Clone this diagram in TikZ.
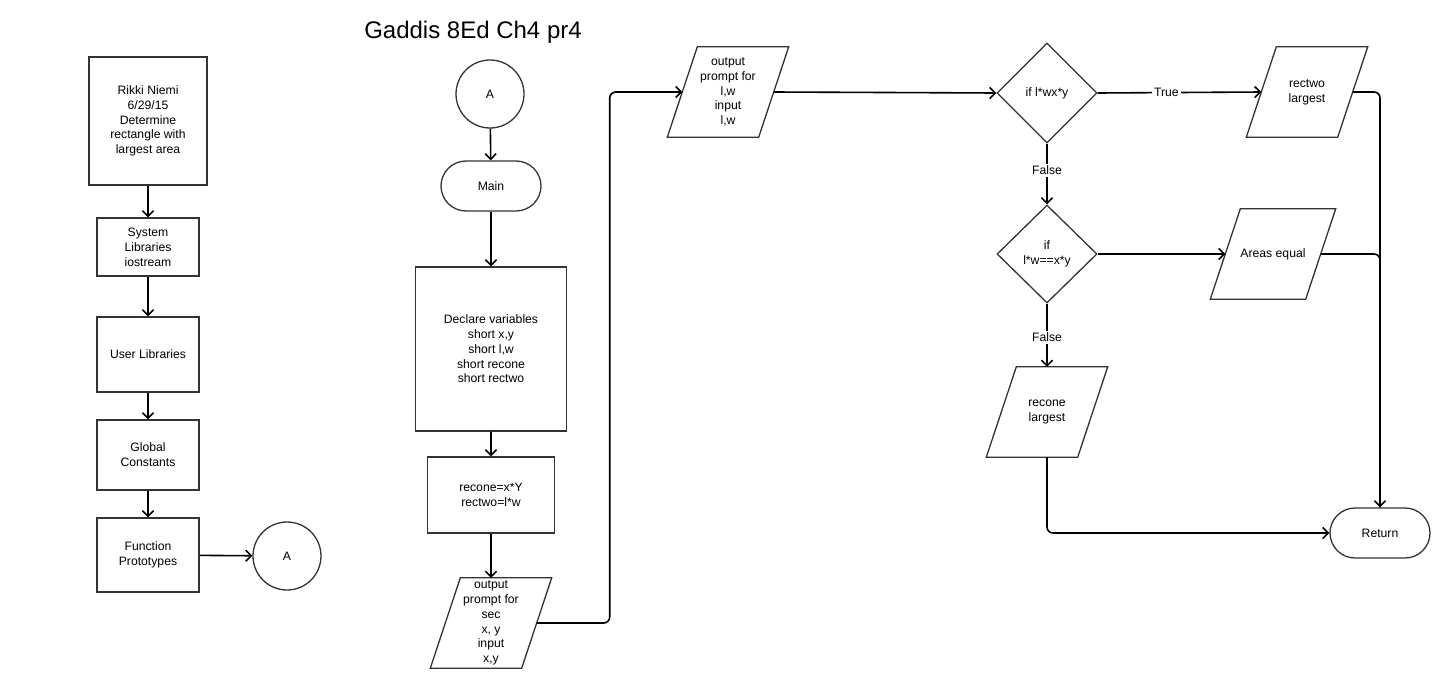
\documentclass[tikz,border=0pt]{standalone}
\usepackage{fontspec}
\setmainfont{Liberation Sans}
\usetikzlibrary{shapes.geometric,arrows.meta}

% slanted outline round a plain node
\newcommand{\paral}[1]{%
    \draw[draw=black!80, line width=1.3pt]
        ([xshift=15pt]#1.north west) -- ([xshift=15pt]#1.north east)
        -- ([xshift=-15pt]#1.south east) -- ([xshift=-15pt]#1.south west) -- cycle;}

\begin{document}
\begin{tikzpicture}[x=1pt,y=-1pt,
        every node/.style={font=\fontsize{12.2}{14.8}\selectfont, align=center},
        box/.style={draw=black!80, line width=1.3pt, rectangle, inner sep=0pt},
        para/.style={rectangle, minimum width=91pt, minimum height=90pt, inner sep=0pt},
        decision/.style={draw=black!80, line width=1.3pt, diamond, minimum width=100pt,
            minimum height=100pt, inner sep=0pt},
        term/.style={draw=black!80, line width=1.3pt, rectangle, rounded corners=25pt,
            minimum width=100pt, minimum height=50pt},
        conn/.style={draw=black!80, line width=1.3pt, circle, minimum size=68pt, inner sep=0pt},
        lbl/.style={fill=white, inner sep=2pt},
        >={Straight Barb[length=5.5pt,width=11pt]}]
    \useasboundingbox (0,0) rectangle (1456,688);

    \node [] (title) at (473,32) {\fontsize{24}{28}\selectfont Gaddis 8Ed Ch4 pr4};

    % left column
    \node [box, minimum width=118pt, minimum height=128pt] (n1) at (148,121) {Rikki Niemi\\6/29/15\\Determine\\rectangle with\\largest area};
    \node [box, minimum width=102pt, minimum height=58pt] (n2) at (148,247) {System\\Libraries\\iostream};
    \node [box, minimum width=102pt, minimum height=75pt] (n3) at (148,354.5) {User Libraries};
    \node [box, minimum width=102pt, minimum height=70pt] (n4) at (148,455) {Global\\Constants};
    \node [box, minimum width=102pt, minimum height=74pt] (n5) at (148,555) {Function\\Prototypes};
    \node [conn] (c1) at (287,556) {A};

    % main column
    \node [conn] (c2) at (490,94) {A};
    \node [term] (m) at (491,186) {Main};
    \node [box, minimum width=151pt, minimum height=164pt] (dv) at (491,349) {Declare variables\\short x,y\\short l,w\\short recone\\short rectwo};
    \node [box, minimum width=127pt, minimum height=76pt] (rc) at (491,495) {recone=x*Y\\rectwo=l*w};
    \node [para] (p1) at (491,623) {output\\prompt for\\sec\\x, y\\input\\x,y};
    \node [para] (p2) at (728,92) {output\\prompt for\\l,w\\input\\l,w};

    % decisions
    \node [decision] (d1) at (1047,93) {if l*wx*y};
    \node [para] (rt) at (1307,92) {rectwo\\largest};
    \node [decision, minimum height=98pt] (d2) at (1047,254) {if\\l*w==x*y};
    \node [para, minimum width=95pt] (ae) at (1273,254) {Areas equal};
    \node [para] (rl) at (1047,412) {recone\\largest};
    \node [term] (ret) at (1380,533) {Return};

    \paral{p1}
    \paral{p2}
    \paral{rt}
    \paral{ae}
    \paral{rl}

    \begin{scope}[line width=1.6pt]
        \draw[->] (n1) -- (n2);
        \draw[->] (n2) -- (n3);
        \draw[->] (n3) -- (n4);
        \draw[->] (n4) -- (n5);
        \draw[->] (n5) -- (c1);
        \draw[->] (c2) -- (m);
        \draw[->] (m) -- (dv);
        \draw[->] (dv) -- (rc);
        \draw[->] (rc) -- (p1);
        \draw[->, rounded corners=6pt] (p1.east) -- ++(73,0) |- (p2.west);
        \draw[->] (p2.east) -- (d1.west);
        \draw[->] (d1.east) -- node[lbl, pos=0.42] {True} (rt.west);
        \draw[->] (d1.south) -- node[lbl, pos=0.44] {False} (d2.north);
        \draw[->] (d2.east) -- (ae.west);
        \draw[->] (d2.south) -- node[lbl, pos=0.53] {False} (rl.north);
        \draw[->, rounded corners=6pt] (rt.east) -| (ret.north);
        \draw[rounded corners=6pt] (ae.east) -| (ret.north);
        \draw[->, rounded corners=6pt] (rl.south) |- (ret.west);
    \end{scope}
\end{tikzpicture}
\end{document}
